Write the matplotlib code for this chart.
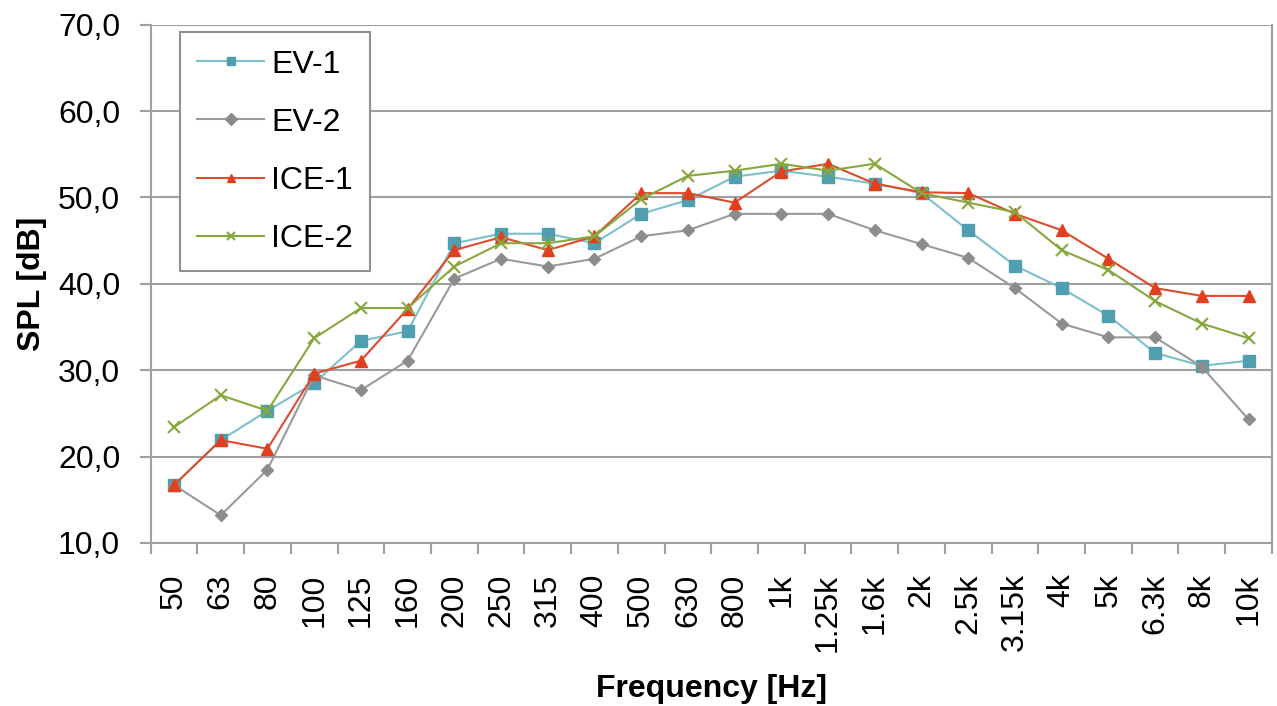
import numpy as np
import matplotlib.pyplot as plt
from matplotlib.ticker import FixedLocator, FuncFormatter

plt.rcParams['font.family'] = ['Liberation Sans', 'DejaVu Sans']

# Third-octave bands
freqs = ["50", "63", "80", "100", "125", "160", "200", "250", "315", "400",
         "500", "630", "800", "1k", "1.25k", "1.6k", "2k", "2.5k", "3.15k",
         "4k", "5k", "6.3k", "8k", "10k"]

# SPL [dB] per vehicle
ev1 = [16.7, 21.9, 25.3, 28.5, 33.4, 34.5, 44.7, 45.8, 45.8, 44.7, 48.1, 49.7,
       52.4, 53.1, 52.4, 51.6, 50.5, 46.2, 42.1, 39.5, 36.3, 32.0, 30.5, 31.1]
ev2 = [16.7, 13.2, 18.5, 29.4, 27.7, 31.1, 40.6, 42.9, 42.0, 42.9, 45.5, 46.2,
       48.1, 48.1, 48.1, 46.2, 44.6, 43.0, 39.5, 35.4, 33.8, 33.8, 30.4, 24.3]
ice1 = [16.7, 21.9, 20.9, 29.6, 31.1, 37.1, 43.9, 45.4, 43.9, 45.5, 50.5, 50.5,
        49.4, 53.0, 53.9, 51.6, 50.6, 50.5, 48.1, 46.2, 42.9, 39.5, 38.6, 38.6]
ice2 = [23.4, 27.1, 25.3, 33.7, 37.2, 37.2, 42.0, 44.7, 44.7, 45.5, 49.8, 52.5,
        53.1, 53.9, 53.1, 53.9, 50.5, 49.4, 48.3, 43.9, 41.6, 38.0, 35.4, 33.7]

x = np.arange(len(freqs))
fs = 23

fig = plt.figure(figsize=(12.77, 7.06), dpi=100)
ax = fig.add_axes([0.118, 0.231, 0.878, 0.734])

ax.plot(x, ev1, color="#7cc0cc", lw=1.5, marker="s", ms=9,
        mfc="#4f9fb0", mec="#4f9fb0", label="EV-1", zorder=3)
ax.plot(x, ev2, color="#9a9a9a", lw=1.5, marker="D", ms=6,
        mfc="#8c8c8c", mec="#8c8c8c", label="EV-2", zorder=3)
ax.plot(x, ice1, color="#e04a2e", lw=1.5, marker="^", ms=9,
        mfc="#e0401e", mec="#e0401e", label="ICE-1", zorder=4)
ax.plot(x, ice2, color="#86a83c", lw=1.5, marker="x", ms=8, mew=1.5,
        mec="#86a83c", label="ICE-2", zorder=4)

ax.set_xlim(-0.5, len(freqs) - 0.5)
ax.set_ylim(10, 70)
ax.set_yticks(np.arange(10, 71, 10))
ax.yaxis.set_major_formatter(FuncFormatter(lambda v, p: f"{v:.1f}".replace(".", ",")))

ax.set_xticks(x)
ax.set_xticklabels(freqs, rotation=90, fontsize=fs)
ax.xaxis.set_minor_locator(FixedLocator(np.arange(-0.5, len(freqs), 1)))
ax.tick_params(axis="x", which="major", length=0, pad=22)
ax.tick_params(axis="x", which="minor", length=8, color="#a0a0a0", width=1.5)
ax.tick_params(axis="y", length=8, color="#a0a0a0", width=1.5, labelsize=fs, pad=14)

ax.grid(axis="y", color="#a0a0a0", lw=1.5)
ax.set_axisbelow(True)
for s in ax.spines.values():
    s.set_color("#a0a0a0")
    s.set_linewidth(1.5)
ax.spines["top"].set_visible(False)

ax.set_ylabel("SPL [dB]", fontsize=fs, fontweight="bold", labelpad=8)
ax.set_xlabel("Frequency [Hz]", fontsize=fs, fontweight="bold", labelpad=16)

leg = ax.legend(loc="upper left", bbox_to_anchor=(0.026, 0.986), fontsize=fs,
                fancybox=False, framealpha=1, edgecolor="#909090",
                labelspacing=0.88, handlelength=2.1, borderpad=0.55,
                handletextpad=0.2, borderaxespad=0)
leg.get_frame().set_linewidth(1.5)
for h in leg.legend_handles:
    h.set_markersize(6)

fig.savefig("out.png", dpi=100)
